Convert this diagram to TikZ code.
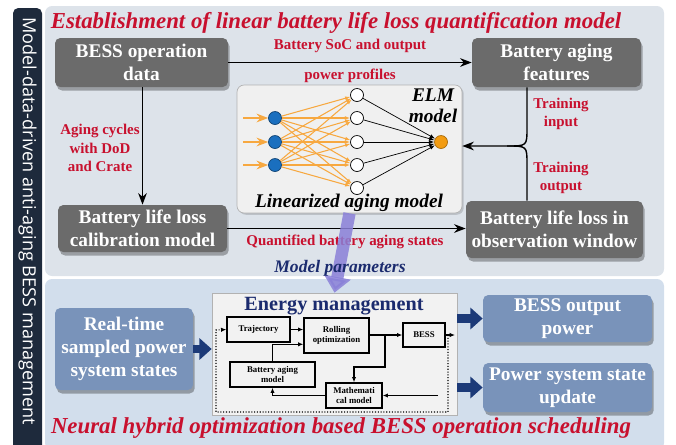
\documentclass[tikz,border=0pt]{standalone}
\usepackage{fontspec}
\setmainfont{Liberation Serif}
\newfontfamily\barfont{Open Sans}
\usetikzlibrary{arrows.meta,shadows,positioning}

\definecolor{paneltop}{HTML}{DDE3EA}
\definecolor{panelbot}{HTML}{D2DEEC}
\definecolor{bardark}{HTML}{1E2A3C}
\definecolor{boxgray}{HTML}{6B6B6B}
\definecolor{boxblue}{HTML}{7993BA}
\definecolor{labred}{HTML}{C8102E}
\definecolor{navy}{HTML}{1B2B6E}
\definecolor{blockblue}{HTML}{1C3A78}
\definecolor{paramviolet}{HTML}{8A80D8}
\definecolor{edgeorange}{HTML}{F7A840}
\definecolor{nodeblue}{HTML}{1A6FBF}
\definecolor{nodeorange}{HTML}{F39C12}

\begin{document}
\begin{tikzpicture}[x=0.02cm, y=-0.02cm, >=Stealth,
    graybox/.style={fill=boxgray, rounded corners=3pt, text=white, align=center,
        inner sep=0pt, font=\bfseries\fontsize{11}{13}\selectfont,
        drop shadow={shadow xshift=1pt, shadow yshift=-2pt, fill=black, opacity=0.3}},
    bluebox/.style={graybox, fill=boxblue},
    redlab/.style={text=labred, align=center, font=\bfseries\fontsize{8.5}{10.5}\selectfont},
    title/.style={text=labred, font=\bfseries\itshape\fontsize{13}{15}\selectfont},
    innerbox/.style={draw, thick, align=center, inner sep=0pt, font=\bfseries\fontsize{5}{6}\selectfont},
    neuron/.style={circle, draw, minimum size=0.26cm, inner sep=0pt},
    block/.style={blockblue, line width=5pt, -{Triangle[width=12pt,length=7pt]}},
    small/.style={-{Latex[length=3pt,width=2.5pt]}}]

    \useasboundingbox (0,0) rectangle (676,444);

    % Panels
    \fill[paneltop, rounded corners=4pt] (45,6) rectangle (664,276);
    \fill[panelbot, rounded corners=4pt] (45,279) rectangle (664,450);
    \fill[bardark, rounded corners=3pt] (13,8) rectangle (42,460);
    \node[rotate=-90, anchor=west, text=white, font=\barfont\fontsize{10.3}{12}\selectfont] (bar) at (27.5,11) {Model-data-driven anti-aging BESS management};

    % Titles
    \node[title] (t1) at (336,23) {Establishment of linear battery life loss quantification model};
    \node[title] (t2) at (341,428) {Neural hybrid optimization based BESS operation scheduling};

    % Upper boxes
    \node[graybox, minimum width=3.46cm, minimum height=0.98cm] (opdata) at (141.5,62.5) {BESS operation\\data};
    \node[graybox, minimum width=3.38cm, minimum height=0.98cm] (features) at (556.5,62.5) {Battery aging\\features};
    \node[graybox, minimum width=3.38cm, minimum height=0.94cm] (calib) at (142.5,228.5) {Battery life loss\\calibration model};
    \node[graybox, minimum width=3.54cm, minimum height=1.14cm] (window) at (554.5,229.5) {Battery life loss in\\observation window};

    % ELM panel
    \node[fill=gray!12, draw=gray!60, rounded corners=4pt, minimum width=4.5cm, minimum height=2.56cm,
        drop shadow={shadow xshift=1pt, shadow yshift=-1pt, fill=black, opacity=0.15}] (elm) at (349.5,149) {};
    \node[font=\bfseries\itshape\fontsize{11}{12}\selectfont, align=center] (elmlab) at (433,106) {ELM\\model};
    \node[font=\bfseries\itshape\fontsize{11}{12}\selectfont] (linlab) at (349,203) {Linearized aging model};

    % Network
    \foreach \i/\y in {1/118,2/142,3/165} {
        \node[neuron, fill=nodeblue, draw=nodeblue!60!black] (in\i) at (275,\y) {};
        \coordinate (src\i) at (243,\y);
        \draw[edgeorange, thick, ->] (src\i) -- (in\i);
    }
    \foreach \j/\y in {1/95,2/118,3/142,4/165,5/188}
        \node[neuron, fill=white] (hid\j) at (357,\y) {};
    \node[neuron, fill=nodeorange, draw=nodeorange!70!black] (out) at (441,142) {};
    \foreach \i in {1,2,3}
        \foreach \j in {1,...,5}
            \draw[edgeorange, semithick, -{Latex[length=3pt]}] (in\i) -- (hid\j);
    \foreach \j in {1,...,5}
        \draw[-{Latex[length=3pt]}] (hid\j) -- (out);

    % Upper arrows
    \draw[thick, ->] (opdata.east) -- (features.west)
        node[redlab, midway, above=2pt] {Battery SoC and output}
        node[redlab, midway, below=0pt] {power profiles};
    \draw[thick, ->] (opdata.south -| calib.north) -- (calib.north);
    \node[redlab] (cyc) at (100,148) {Aging cycles\\with DoD\\and Crate};
    \draw[thick, ->] (calib.east) -- (calib.east -| window.west);
    \node[redlab] (qlab) at (345,242) {Quantified battery aging states};

    % Training paths
    \coordinate (trn) at (527,146);
    \coordinate (jn) at (507,146);
    \draw[thick, ->] (features.south -| trn) -- (527,128) .. controls (527,146) .. (jn) -- (elm.east |- trn);
    \draw[thick] (window.north -| trn) -- (527,164) .. controls (527,146) .. (jn);
    \node[redlab] (tin) at (561,114) {Training\\input};
    \node[redlab] (tout) at (561,178) {Training\\output};

    % Lower boxes
    \node[bluebox, minimum width=2.76cm, minimum height=1.64cm] (rts) at (124,349) {Real-time\\sampled power\\system states};
    \node[fill=gray!10, draw=gray!60, minimum width=4.9cm, minimum height=2.44cm] (em) at (334.5,354) {};
    \node[bluebox, minimum width=3.38cm, minimum height=0.94cm] (outp) at (567.5,318.5) {BESS output\\power};
    \node[bluebox, minimum width=3.38cm, minimum height=0.98cm] (upd) at (567.5,387.5) {Power system state\\update};

    % Model parameters
    \draw[paramviolet, opacity=0.85, line width=7pt, -{Triangle[width=15pt,length=9pt]}] (elm.south) -- (em.north);
    \node[text=navy, font=\bfseries\itshape\fontsize{10}{12}\selectfont] (mplab) at (340,268) {Model parameters};

    % Energy management
    \node[text=navy, font=\bfseries\fontsize{11.5}{13}\selectfont] (emlab) at (334,306) {Energy management};
    \node[innerbox, minimum width=1.26cm, minimum height=0.5cm] (traj) at (258.5,329.5) {Trajectory};
    \node[innerbox, minimum width=1.3cm, minimum height=0.7cm] (roll) at (336.5,335.5) {Rolling\\optimization};
    \node[innerbox, minimum width=0.84cm, minimum height=0.48cm] (bess) at (424,335) {BESS};
    \node[innerbox, minimum width=1.7cm, minimum height=0.5cm] (bam) at (272.5,374.5) {Battery aging\\model};
    \node[innerbox, minimum width=1.12cm, minimum height=0.5cm] (math) at (354,395.5) {Mathemati\\cal model};

    \draw[thick, small] (traj.east) -- (traj.east -| roll.west);
    \draw[thick, small] (roll.east |- bess.west) -- (bess.west);
    \coordinate (br) at (385,335);
    \draw[thick, small] (br) -- (385,367) -| (math.north);
    \draw[thick, small] (bam.north) |- ([yshift=-5pt]roll.west);
    \draw[thick, small] (math.west) -| (bam.south);
    \coordinate (mfeed) at (438,395.5);
    \draw[thick, small] (mfeed) -- (math.east);
    \coordinate (bout) at (455,335);
    \draw[thick, small] (bess.east) -- (bout);
    \coordinate (lp) at (448,335);
    \draw[densely dotted, semithick, small] (lp) -- (448,412) -- (216,412) -- (216,330) -- (traj.west);

    % Block arrows
    \draw[block] (rts.east) -- (em.west |- rts.east);
    \draw[block] (em.east |- outp.west) -- (outp.west);
    \draw[block] (em.east |- upd.west) -- (upd.west);

\end{tikzpicture}
\end{document}
